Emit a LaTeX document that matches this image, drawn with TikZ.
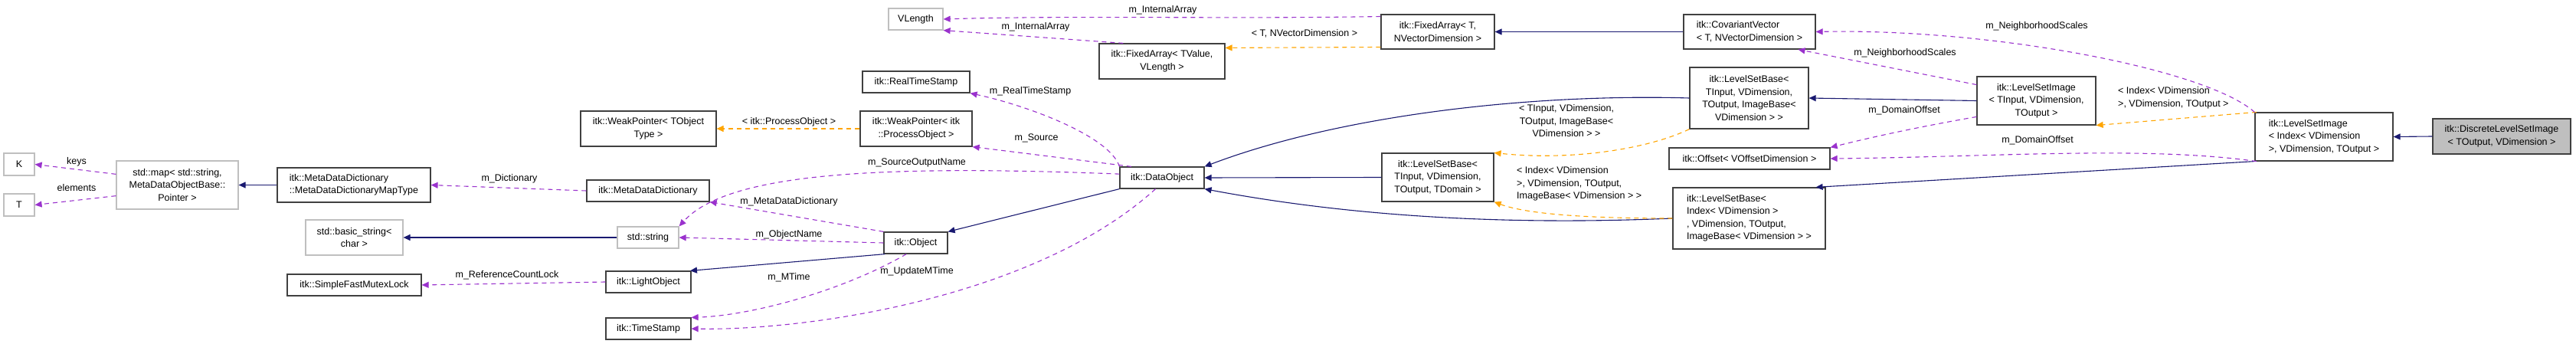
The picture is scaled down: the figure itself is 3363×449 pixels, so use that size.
\documentclass[tikz,border=0pt]{standalone}
\usepackage{fontspec}
\setmainfont{Liberation Sans}
\usetikzlibrary{arrows.meta}
\definecolor{navy}{HTML}{191970}
\definecolor{purp}{HTML}{9A32CD}
\definecolor{orng}{HTML}{FFA500}
\definecolor{gbord}{HTML}{BFBFBF}
\definecolor{gfill}{HTML}{BFBFBF}
\begin{document}
\begin{tikzpicture}[x=1pt,y=-1pt,
  font=\fontsize{12.5}{16.5}\selectfont,
  box/.style={draw=black!75,line width=1.2pt,rectangle,inner sep=0pt,align=center},
  gbox/.style={box,draw=gbord},
  tip/.style={-{Triangle[length=9pt,width=8pt]}},
  inh/.style={tip,draw=navy,line width=1.1pt},
  usage/.style={tip,draw=purp,dash pattern=on 6pt off 5pt,line width=1.1pt},
  tmpl/.style={tip,draw=orng,dash pattern=on 6pt off 5pt,line width=1.1pt},
  lbl/.style={inner sep=0pt,align=center}]
\useasboundingbox (0,0) rectangle (3363,449);
% nodes
\node[gbox,minimum width=40,minimum height=29] (K) at (25,214.5) {K};
\node[gbox,minimum width=40,minimum height=29] (T) at (25,267.5) {T};
\node[gbox,minimum width=159,minimum height=63] (map) at (231.5,241.5) {std::map< std::string,\\ MetaDataObjectBase::\\Pointer >};
\node[box,minimum width=200,minimum height=45,align=left] (maptype) at (462,241.5) {itk::MetaDataDictionary\\::MetaDataDictionaryMapType};
\node[gbox,minimum width=127,minimum height=46] (bstr) at (462.5,310) {std::basic\_string<\\char >};
\node[box,minimum width=175,minimum height=28] (mutex) at (462.5,372) {itk::SimpleFastMutexLock};
\node[gbox,minimum width=71,minimum height=28] (vlen) at (1195.5,25) {VLength};
\node[box,minimum width=140,minimum height=28] (rts) at (1196,107) {itk::RealTimeStamp};
\node[box,minimum width=177,minimum height=46] (wpT) at (846.5,168) {itk::WeakPointer< TObject\\Type >};
\node[box,minimum width=146,minimum height=46] (wpP) at (1196,168) {itk::WeakPointer< itk\\::ProcessObject >};
\node[box,minimum width=160,minimum height=28] (mdd) at (846,249) {itk::MetaDataDictionary};
\node[gbox,minimum width=80,minimum height=28] (str) at (846,310) {std::string};
\node[box,minimum width=83,minimum height=28] (obj) at (1195.5,317) {itk::Object};
\node[box,minimum width=111,minimum height=28] (lobj) at (846.5,368) {itk::LightObject};
\node[box,minimum width=111,minimum height=28] (ts) at (846.5,429) {itk::TimeStamp};
\node[box,minimum width=164,minimum height=46] (faTV) at (1517,80) {itk::FixedArray< TValue,\\VLength >};
\node[box,minimum width=148,minimum height=45] (faT) at (1877,41.5) {itk::FixedArray< T,\\NVectorDimension >};
\node[box,minimum width=110,minimum height=28] (dobj) at (1517,232) {itk::DataObject};
\node[box,minimum width=146,minimum height=63] (lsbD) at (1877,231.5) {itk::LevelSetBase<\\TInput, VDimension,\\TOutput, TDomain >};
\node[box,minimum width=172,minimum height=45,align=left] (cov) at (2284,41.5) {itk::CovariantVector\\< T, NVectorDimension >};
\node[box,minimum width=155,minimum height=80] (lsbI) at (2283.5,128) {itk::LevelSetBase<\\TInput, VDimension,\\TOutput, ImageBase<\\VDimension > >};
\node[box,minimum width=155,minimum height=63] (lsiT) at (2658.5,131.5) {itk::LevelSetImage\\< TInput, VDimension,\\TOutput >};
\node[box,minimum width=210,minimum height=28] (off) at (2284,207) {itk::Offset< VOffsetDimension >};
\node[box,minimum width=199,minimum height=80,align=left] (lsbX) at (2283.5,285) {itk::LevelSetBase<\\ Index< VDimension >\\, VDimension, TOutput,\\ ImageBase< VDimension > >};
\node[box,minimum width=180,minimum height=63,align=left] (lsiX) at (3034,178.5) {itk::LevelSetImage\\< Index< VDimension\\ >, VDimension, TOutput >};
\node[box,fill=gfill,minimum width=180,minimum height=46] (disc) at (3266,178) {itk::DiscreteLevelSetImage\\< TOutput, VDimension >};
% inheritance
\draw[inh] (maptype.west) -- (map.east);
\draw[inh] (str.west) -- (bstr.east);
\draw[inh] (obj.200) -- (lobj.15);
\draw[inh] (dobj.south west) -- (obj.north east);
\draw[inh] (lsbI.west) .. controls (2000,122) and (1750,150) .. (dobj.north east);
\draw[inh] (lsbD.west) -- (dobj.east);
\draw[inh] (lsbX.west) .. controls (1950,295) and (1750,280) .. (dobj.south east);
\draw[inh] (cov.west) -- (faT.east);
\draw[inh] (lsiT.west) -- (lsbI.east);
\draw[inh] (lsiX.south west) -- (lsbX.25);
\draw[inh] (disc.west) -- (lsiX.east);
% templates
\draw[tmpl] (wpP.west) -- (wpT.east);
\draw[tmpl] (faT.195) -- (faTV.12);
\draw[tmpl] (lsbI.south west) .. controls (2150,195) and (2050,210) .. (lsbD.north east);
\draw[tmpl] (lsbX.west) .. controls (2100,285) and (2000,282) .. (lsbD.south east);
\draw[tmpl] (lsiX.160) -- (lsiT.south east);
% usage
\draw[usage] (map.170) -- (K.east);
\draw[usage] (map.190) -- (T.east);
\draw[usage] (mdd.west) -- (maptype.east);
\draw[usage] (lobj.west) -- (mutex.east);
\draw[usage] (faT.165) .. controls (1600,25) and (1400,20) .. (vlen.east);
\draw[usage] (faTV.155) -- (vlen.south east);
\draw[usage] (dobj.north west) .. controls (1450,180) and (1350,140) .. (rts.south east);
\draw[usage] (dobj.160) -- (wpP.south east);
\draw[usage] (dobj.175) .. controls (1150,215) and (950,225) .. (str.north east);
\draw[usage] (obj.north west) -- (mdd.south east);
\draw[usage] (obj.west) -- (str.east);
\draw[usage] (obj.-130) .. controls (1100,380) and (980,412) .. (ts.north east);
\draw[usage] (dobj.-120) .. controls (1350,390) and (1050,432) .. (ts.east);
\draw[usage] (lsiT.165) -- (cov.-20);
\draw[usage] (lsiX.north west) .. controls (2880,90) and (2600,37) .. (cov.east);
\draw[usage] (lsiT.195) .. controls (2480,170) and (2420,185) .. (off.north east);
\draw[usage] (lsiX.200) .. controls (2800,190) and (2600,205) .. (off.east);
% labels
\node[lbl] (lk) at (100,211) {keys};
\node[lbl] (le) at (100,245) {elements};
\node[lbl] (ld) at (665,233) {m\_Dictionary};
\node[lbl] (lr) at (662,359) {m\_ReferenceCountLock};
\node[lbl] (li1) at (1518,13) {m\_InternalArray};
\node[lbl] (li2) at (1352,35) {m\_InternalArray};
\node[lbl] (lrt) at (1345,119) {m\_RealTimeStamp};
\node[lbl] (lpo) at (1030,159) {< itk::ProcessObject >};
\node[lbl] (ls) at (1353,180) {m\_Source};
\node[lbl] (lso) at (1197,212) {m\_SourceOutputName};
\node[lbl] (lmd) at (1030,263) {m\_MetaDataDictionary};
\node[lbl] (lon) at (1030,306) {m\_ObjectName};
\node[lbl] (lmt) at (1030,362) {m\_MTime};
\node[lbl] (lum) at (1197,354) {m\_UpdateMTime};
\node[lbl] (ltn) at (1703,44) {< T, NVectorDimension >};
\node[lbl] (lt1) at (2045,158) {< TInput, VDimension,\\TOutput, ImageBase<\\VDimension > >};
\node[lbl,align=left,anchor=west] (lt2) at (1980,240) {< Index< VDimension\\>, VDimension, TOutput,\\ImageBase< VDimension > >};
\node[lbl,align=left,anchor=west] (lt3) at (2765,128) {< Index< VDimension\\>, VDimension, TOutput >};
\node[lbl] (ln1) at (2659,34) {m\_NeighborhoodScales};
\node[lbl] (ln2) at (2487,69) {m\_NeighborhoodScales};
\node[lbl] (ldo1) at (2486,144) {m\_DomainOffset};
\node[lbl] (ldo2) at (2660,183) {m\_DomainOffset};
\end{tikzpicture}
\end{document}
